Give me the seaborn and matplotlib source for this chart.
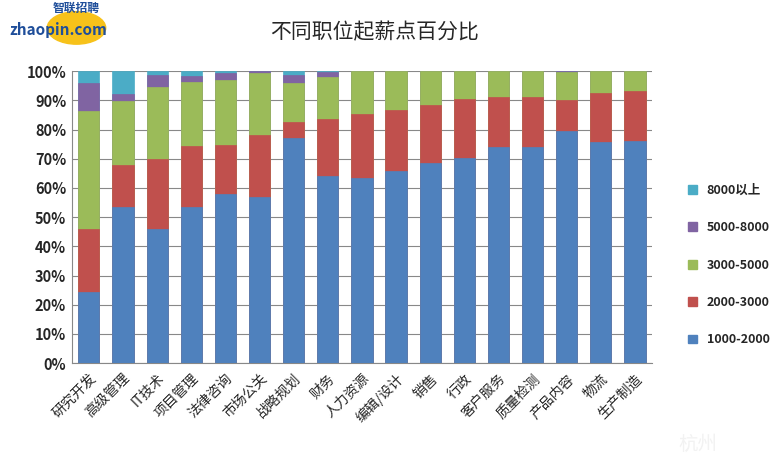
import numpy as np
import seaborn as sns
import matplotlib.pyplot as plt
from matplotlib.patches import Patch, Ellipse

# job categories
jobs = ['研究开发', '高级管理', 'IT技术', '项目管理', '法律咨询', '市场公关', '战略规划',
        '财务', '人力资源', '编辑/设计', '销售', '行政', '客户服务', '质量检测',
        '产品内容', '物流', '生产制造']

# share of each starting salary band (%)
s_1000_2000 = [24.5, 53.6, 45.8, 53.6, 57.8, 57.0, 77.0, 64.1, 63.5, 65.8, 68.4, 70.4, 73.9, 73.9, 79.4, 75.9, 76.2]
s_2000_3000 = [21.3, 14.2, 24.1, 20.7, 17.0, 21.2, 5.7, 19.5, 21.7, 20.9, 20.0, 19.9, 17.3, 17.3, 10.7, 16.7, 17.1]
s_3000_5000 = [40.6, 22.1, 24.7, 21.9, 22.3, 21.2, 13.1, 14.5, 14.8, 13.3, 11.6, 9.7, 8.8, 8.8, 9.7, 7.4, 6.7]
s_5000_8000 = [9.4, 2.2, 4.1, 2.3, 2.1, 0.5, 2.8, 1.6, 0, 0, 0, 0, 0, 0, 0.2, 0, 0]
s_8000_up = [4.2, 7.9, 1.3, 1.5, 0.8, 0.1, 1.4, 0.3, 0, 0, 0, 0, 0, 0, 0, 0, 0]

bands = ['1000-2000', '2000-3000', '3000-5000', '5000-8000', '8000以上']
series = [s_1000_2000, s_2000_3000, s_3000_5000, s_5000_8000, s_8000_up]
colors = ['#4F81BD', '#C0504D', '#9BBB59', '#8064A2', '#4BACC6']

sns.set_style('white')
plt.rcParams['font.family'] = ['Noto Sans CJK SC', 'DejaVu Sans']

fig = plt.figure(figsize=(7.8, 4.65), dpi=100)
ax = fig.add_axes([0.092, 0.219, 0.744, 0.628])

# stacked: draw cumulative totals from the top layer down
cum = np.cumsum(np.array(series), axis=0)
for i in range(len(bands) - 1, -1, -1):
    sns.barplot(x=jobs, y=cum[i], order=jobs, color=colors[i], saturation=1,
                width=0.62, errorbar=None, ax=ax, zorder=3,
                edgecolor=colors[i], linewidth=0.5)

ax.set_ylim(0, 100)
ax.set_xlim(-0.5, len(jobs) - 0.5)
ax.set_yticks(range(0, 101, 10))
ax.set_yticklabels([f'{v}%' for v in range(0, 101, 10)], fontsize=10.5, fontweight='bold')
ax.set_xticks(range(len(jobs)))
ax.set_xticklabels(jobs, rotation=45, ha='right', rotation_mode='anchor', fontsize=10)
ax.tick_params(axis='x', length=0, pad=6)
ax.tick_params(axis='y', length=0, pad=4)
ax.set_xlabel('')
ax.set_ylabel('')
ax.yaxis.grid(True, color='#888888', linewidth=0.8, zorder=0)
ax.set_axisbelow(True)
for side in ['top', 'right']:
    ax.spines[side].set_visible(False)
for side in ['left', 'bottom']:
    ax.spines[side].set_color('#888888')
    ax.spines[side].set_linewidth(0.8)

handles = [Patch(facecolor=colors[i], edgecolor=colors[i]) for i in range(len(bands) - 1, -1, -1)]
fig.legend(handles, bands[::-1], loc='center left', bbox_to_anchor=(0.882, 0.43),
           frameon=False, labelspacing=1.95, handlelength=0.7, handleheight=0.7,
           handletextpad=0.8, borderaxespad=0, borderpad=0,
           prop={'size': 9, 'weight': 'bold'})

fig.text(0.48, 0.93, '不同职位起薪点百分比', ha='center', va='center', fontsize=15)

# logo
fig.patches.append(Ellipse((0.098, 0.94), 0.075, 0.07, transform=fig.transFigure,
                           color='#F7C21A', zorder=0))
fig.text(0.012, 0.935, 'zhaopin.com', fontsize=11, fontweight='bold', style='italic',
         color='#1F4E9A', va='center', zorder=2)
fig.text(0.068, 0.997, '智联招聘', fontsize=8.5, fontweight='bold', style='italic',
         color='#1F4E9A', va='top', zorder=2)

# faint watermark
fig.text(0.87, 0.045, '杭州', fontsize=14, color='#f2f2f2', va='center')

fig.savefig('out.png', dpi=100)
